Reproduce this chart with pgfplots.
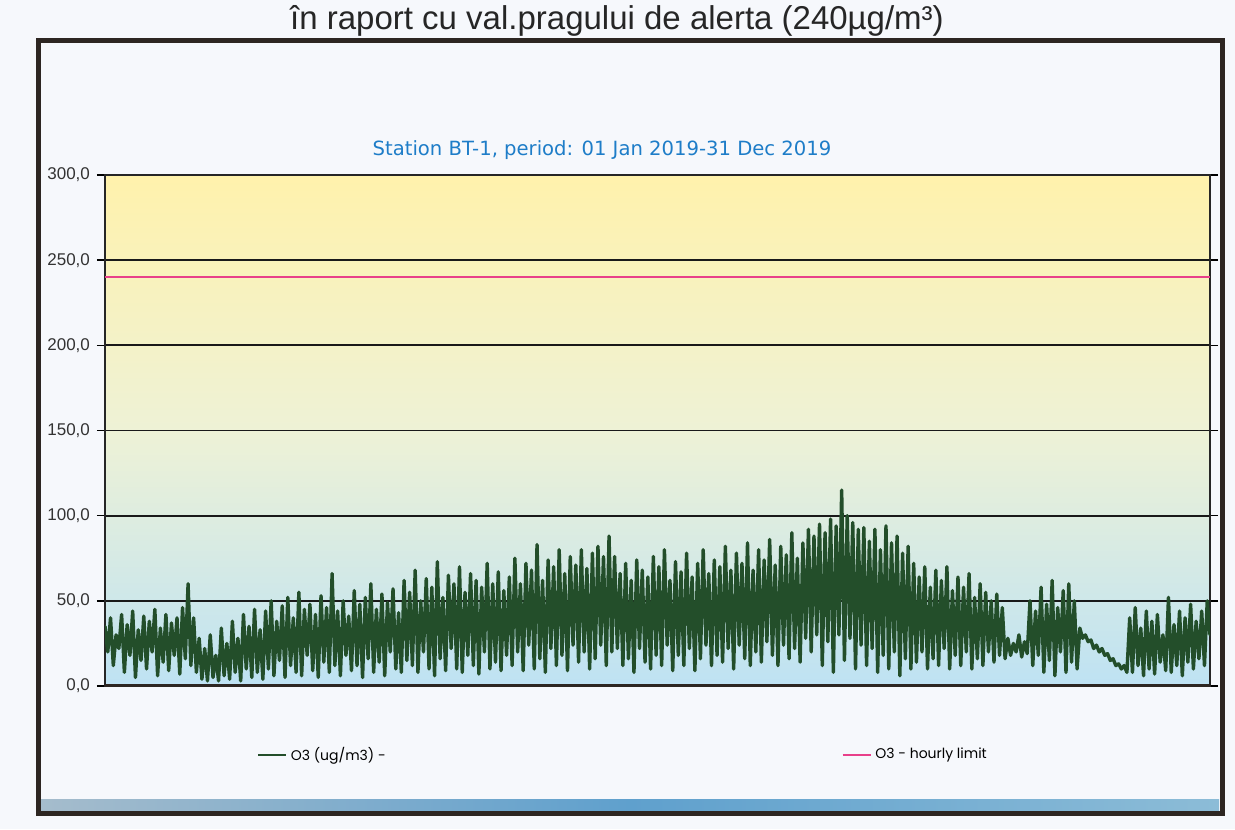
\documentclass[border=0pt]{standalone}
\usepackage{fontspec}
\setmainfont{Liberation Sans}
\newfontfamily\titlefont{DejaVu Sans}
\newfontfamily\legfont{Poppins}
\usepackage{pgfplots}
\usepackage{pgfplotstable}
\pgfplotsset{compat=1.18}
\definecolor{ozone}{RGB}{35,78,42}
\definecolor{limitpink}{RGB}{232,64,138}
\definecolor{titleblue}{RGB}{30,125,200}
\definecolor{framec}{RGB}{45,38,34}
\definecolor{bgtop}{RGB}{255,242,172}
\definecolor{bgmid}{RGB}{238,242,214}
\definecolor{bgbot}{RGB}{190,226,243}
\definecolor{pagebg}{RGB}{246,248,252}
\definecolor{barA}{RGB}{165,188,204}
\definecolor{barB}{RGB}{95,160,205}
\definecolor{barC}{RGB}{140,188,215}

\pgfplotstableread[row sep=\\]{
y\\
35\\20\\40\\12\\30\\22\\42\\8\\36\\18\\44\\5\\33\\15\\41\\10\\38\\20\\45\\6\\34\\14\\42\\9\\37\\18\\40\\7\\46\\16\\60\\12\\
40\\8\\28\\4\\22\\3\\30\\5\\18\\3\\34\\6\\25\\4\\38\\8\\28\\3\\42\\10\\35\\5\\45\\8\\33\\4\\
44\\10\\50\\6\\38\\15\\47\\5\\52\\12\\40\\8\\55\\6\\45\\18\\48\\9\\42\\5\\53\\14\\46\\8\\66\\12\\44\\6\\50\\18\\41\\9\\56\\12\\48\\5\\52\\16\\60\\8\\45\\14\\54\\6\\49\\20\\57\\10\\43\\8\\62\\15\\
55\\12\\68\\8\\50\\20\\63\\10\\58\\6\\73\\16\\52\\9\\65\\22\\60\\10\\70\\8\\55\\18\\66\\12\\62\\7\\58\\20\\72\\10\\60\\14\\67\\9\\56\\18\\
64\\12\\75\\20\\60\\9\\72\\24\\68\\10\\83\\16\\62\\8\\74\\22\\70\\12\\80\\18\\66\\9\\76\\24\\71\\14\\80\\20\\69\\10\\78\\16\\82\\24\\76\\12\\88\\20\\
76\\22\\66\\12\\72\\16\\62\\8\\74\\22\\68\\14\\64\\10\\76\\18\\70\\12\\80\\24\\62\\9\\73\\18\\67\\12\\78\\22\\64\\9\\72\\16\\80\\24\\66\\12\\74\\18\\
70\\14\\82\\22\\68\\10\\78\\24\\72\\16\\84\\12\\68\\20\\80\\14\\74\\26\\86\\18\\71\\12\\82\\24\\77\\16\\90\\22\\75\\14\\84\\28\\
92\\20\\88\\30\\95\\12\\90\\26\\98\\8\\94\\30\\115\\15\\100\\28\\96\\10\\92\\24\\
93\\12\\85\\22\\92\\8\\80\\18\\94\\10\\84\\20\\88\\6\\78\\16\\82\\10\\
72\\14\\64\\20\\70\\10\\58\\16\\68\\12\\62\\22\\70\\10\\56\\18\\64\\12\\58\\20\\66\\10\\52\\16\\60\\12\\55\\20\\50\\14\\54\\18\\46\\16\\
28\\18\\25\\20\\30\\17\\26\\19\\
50\\12\\44\\18\\58\\8\\48\\15\\62\\6\\46\\20\\56\\8\\60\\14\\50\\10\\
34\\28\\30\\26\\27\\22\\24\\20\\22\\18\\19\\15\\16\\12\\13\\10\\12\\8\\
40\\8\\46\\12\\34\\6\\44\\10\\38\\7\\42\\14\\30\\9\\52\\8\\36\\12\\44\\6\\40\\14\\48\\10\\38\\16\\44\\12\\50\\30\\
}\ozonedata

\begin{document}
\begin{tikzpicture}
\useasboundingbox (0,0) rectangle (617.5pt,414.5pt);
\fill[pagebg] (0,0) rectangle (617.5pt,414.5pt);
% cut-off heading
\node[anchor=base, font=\fontsize{16.5}{19}\selectfont, text=black!85] at (308.5pt,399.5pt) {în raport cu val.pragului de alerta (240µg/m³)};
% bottom bar
\shade[left color=barA, right color=barC, middle color=barB] (20.5pt,9.5pt) rectangle (609.5pt,15pt);
% frame
\draw[framec, line width=2.5pt] (19pt,8pt) rectangle (611pt,394pt);
% chart title
\node[font=\titlefont\fontsize{9.8}{11}\selectfont, text=titleblue] at (301pt,339.5pt) {Station BT-1, period: 01 Jan 2019-31 Dec 2019};

\begin{axis}[
  at={(52.5pt,71.5pt)}, anchor=south west,
  scale only axis, width=552.5pt, height=255.5pt,
  xmin=0, xmax=399, ymin=0, ymax=300,
  xtick=\empty,
  ytick={0,50,...,300},
  ymajorgrids,
  major grid style={black!90, line width=0.9pt},
  axis background/.style={top color=bgtop, bottom color=bgbot, middle color=bgmid},
  axis line style={black!85, line width=0.7pt},
  tick align=outside, major tick length=4pt,
  ytick style={black, line width=0.7pt},
  yticklabel style={font=\fontsize{8.5}{10}\selectfont, text=black!80},
  /pgf/number format/fixed,
  /pgf/number format/fixed zerofill,
  /pgf/number format/precision=1,
  /pgf/number format/use comma,
  /pgf/number format/assume math mode=true,
  legend style={at={(0.132,-0.135)}, anchor=west, draw=none, fill=none,
    font=\legfont\fontsize{7}{8}\selectfont, legend columns=2,
    /tikz/every even column/.append style={column sep=226pt}},
  legend image code/.code={\draw[#1, line width=0.8pt, line cap=butt] (0pt,0pt) -- (14pt,0pt);},
]
\addplot[ozone, line width=1.7pt, line join=round, line cap=round] table[x expr=\coordindex, y=y] {\ozonedata};
\addlegendentry{O3 (ug/m3) -}
\addplot[limitpink, line width=0.8pt] coordinates {(0,240) (399,240)};
\addlegendentry{O3 - hourly limit}
\draw[framec, line width=1.8pt] (rel axis cs:0,0) -- (rel axis cs:1,0);
\end{axis}
\end{tikzpicture}
\end{document}
